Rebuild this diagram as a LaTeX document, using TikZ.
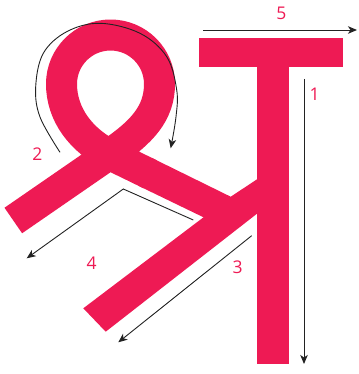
\documentclass[tikz,border=0pt]{standalone}
\usepackage{fontspec}
\setmainfont{Open Sans}
\usetikzlibrary{arrows.meta}
\definecolor{inkpink}{RGB}{238,26,84}
\definecolor{arrowgray}{RGB}{34,34,34}
\tikzset{
  inkfill/.style={fill=inkpink, draw=none},
  inkline/.style={draw=inkpink, line width=31pt, line cap=butt, line join=round},
  guide/.style={draw=arrowgray, line width=0.9pt, -{Stealth[length=9pt,width=7.5pt,inset=2.5pt]}},
  guideplain/.style={draw=arrowgray, line width=0.9pt},
  numlabel/.style={text=inkpink, font=\fontsize{17.5}{20}\selectfont, inner sep=0pt}
}
\begin{document}
\begin{tikzpicture}[x=1pt,y=-1pt]
\useasboundingbox (0,0) rectangle (358,374);
% top bar and stem
\fill[inkpink] (199,38) rectangle (343,67);
\fill[inkpink] (257,38) rectangle (289,364);
% lower diagonal (stroke 3)
\fill[inkpink] (83.3,308.3) -- (230.7,196.7) -- (257.5,179) -- (257.5,213.3) -- (105.7,331.7) -- cycle;
% ribbon loop
\draw[inkline] (13.3,220.5) -- (112,152.4)
  .. controls (140.8,132.5) and (159.5,114) .. (159.5,84)
  .. controls (159.5,56.94) and (137.56,35) .. (110.5,35)
  .. controls (83.44,35) and (61.5,56.94) .. (61.5,84)
  .. controls (61.5,114) and (80.6,140.4) .. (112,155.7)
  -- (150,174.2);
% stroke 4 into stroke 3
\fill[inkpink] (151.8,157.9) -- (230.7,196.7) -- (232,215) -- (205,218) -- (138.2,185.7) -- cycle;

% guide arrows
\coordinate (a1s) at (304,79);
\coordinate (a1e) at (304,364);
\coordinate (a5s) at (203,30);
\coordinate (a5e) at (357,30);
\coordinate (a3s) at (251.7,235.7);
\coordinate (a3e) at (118.3,342.3);
\coordinate (a4s) at (193.3,220);
\coordinate (a4m) at (123.3,189);
\coordinate (a4e) at (26.7,258.3);
\draw[guide] (a1s) -- (a1e);
\draw[guide] (a5s) -- (a5e);
\draw[guide] (a3s) -- (a3e);
\draw[guide] (a4s) -- (a4m) -- (a4e);
\draw[guide] plot[smooth, tension=0.6] coordinates {(60,152.3) (40,117) (35.7,86.7) (43.3,53.3) (66.7,31.7) (100,23.3) (140,33.3) (166.7,56.7) (176.7,90) (176,116.7) (170.7,148.3)};

% labels
\node[numlabel] (l1) at (314.7,94.5) {1};
\node[numlabel] (l2) at (37.3,153.7) {2};
\node[numlabel] (l3) at (237.5,267) {3};
\node[numlabel] (l4) at (91.7,263.7) {4};
\node[numlabel] (l5) at (281.3,13.7) {5};
\end{tikzpicture}
\end{document}
